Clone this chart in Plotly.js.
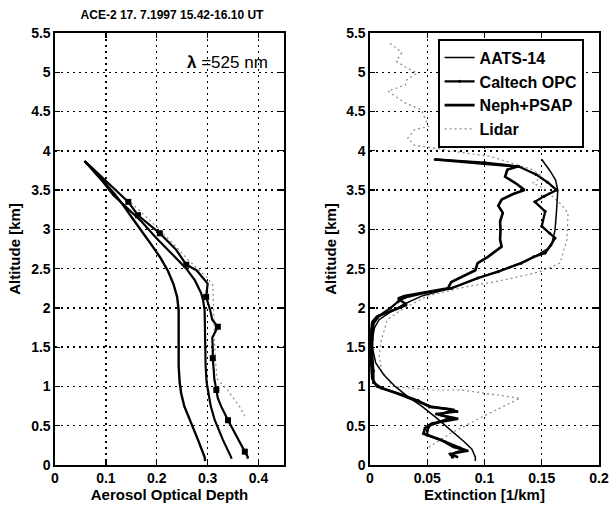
<!DOCTYPE html>
<html>
<head>
<meta charset="utf-8">
<script src="https://cdn.plot.ly/plotly-3.0.1.min.js"></script>
<style>html,body{margin:0;padding:0;background:#fff;}#chart{width:613px;height:505px;}</style>
</head>
<body>
<div id="chart"></div>
<script>
// ---------- Left panel: Aerosol Optical Depth vs altitude ----------
var lNephAlt = [0.05,0.1,0.32,0.57,0.75,0.91,1.05,1.26,1.5,1.72,1.97,2.14,2.3,2.47,2.64,2.8,3.0,3.16,3.3,3.45,3.6,3.75,3.87];
var lNephAod = [0.295,0.294,0.281,0.265,0.254,0.248,0.245,0.243,0.243,0.243,0.243,0.24,0.233,0.222,0.207,0.19,0.167,0.15,0.135,0.117,0.097,0.077,0.058];

var lAatsAlt = [0.08,0.1,0.32,0.57,0.75,0.91,1.05,1.26,1.5,1.68,1.97,2.1,2.19,2.35,2.5,2.7,2.89,3.1,3.3,3.44,3.6,3.75,3.87];
var lAatsAod = [0.347,0.346,0.33,0.314,0.306,0.301,0.298,0.296,0.295,0.294,0.294,0.291,0.287,0.275,0.258,0.228,0.199,0.17,0.138,0.114,0.095,0.075,0.058];

var lOpcAlt = [0.08,0.1,0.17,0.3,0.4,0.57,0.74,0.85,0.955,1.1,1.2,1.36,1.5,1.62,1.76,1.85,1.97,2.14,2.31,2.48,2.55,2.74,2.95,3.18,3.35,3.5,3.65,3.8,3.87];
var lOpcAod = [0.378,0.379,0.373,0.362,0.353,0.34,0.327,0.32,0.317,0.313,0.312,0.31,0.31,0.309,0.32,0.309,0.305,0.297,0.3,0.278,0.258,0.238,0.206,0.163,0.144,0.12,0.095,0.07,0.058];
var lOpcMarkAlt = [0.17,0.57,0.955,1.36,1.76,2.14,2.55,2.95,3.18,3.35];
var lOpcMarkAod = [0.373,0.34,0.317,0.31,0.32,0.297,0.258,0.206,0.163,0.144];

var lLidarAlt = [0.62,0.74,0.83,0.955,1.1,1.5,1.9,2.15,2.29,2.38,2.5,2.61,2.8,3.0,3.2,3.35];
var lLidarAod = [0.373,0.363,0.353,0.339,0.318,0.314,0.312,0.31,0.31,0.3,0.28,0.262,0.235,0.205,0.172,0.148];

// ---------- Right panel: Extinction vs altitude ----------
var rAatsAlt = [3.89,3.75,3.63,3.5,3.25,2.99,2.83,2.75,2.68,2.6,2.5,2.4,2.3,2.22,2.15,2.05,1.95,1.85,1.75,1.6,1.5,1.3,1.15,1.0,0.87,0.74,0.6,0.45,0.3,0.2,0.1,0.05];
var rAatsExt = [0.15,0.157,0.162,0.164,0.163,0.1616,0.159,0.155,0.147,0.137,0.118,0.098,0.08,0.063,0.045,0.03,0.018,0.008,0.004,0.002,0.002,0.005,0.012,0.022,0.033,0.046,0.058,0.07,0.082,0.089,0.092,0.092];

var rOpcAlt = [3.89,3.85,3.8,3.7,3.6,3.5,3.42,3.35,3.23,3.04,2.95,2.89,2.8,2.7,2.65,2.57,2.46,2.38,2.25,2.19,2.13,2.08,2.0,1.9,1.8,1.6,1.4,1.2,1.05,0.98,0.9,0.82,0.74,0.71,0.68,0.65,0.6,0.55,0.5,0.44,0.38,0.3,0.22,0.18,0.14,0.1];
var rOpcExt = [0.057,0.1,0.13,0.145,0.155,0.163,0.152,0.144,0.153,0.15,0.157,0.1616,0.158,0.153,0.143,0.132,0.112,0.094,0.071,0.048,0.03,0.0245,0.018,0.008,0.003,0.002,0.002,0.003,0.003,0.01,0.027,0.042,0.052,0.07,0.076,0.058,0.07,0.06,0.052,0.05,0.05,0.065,0.078,0.085,0.07,0.072];

var rNephAlt = [3.89,3.85,3.8,3.76,3.67,3.59,3.5,3.45,3.38,3.3,3.21,3.1,2.99,2.87,2.78,2.65,2.57,2.48,2.42,2.33,2.25,2.2,2.15,2.12,2.08,2.04,1.98,1.94,1.89,1.82,1.7,1.5,1.3,1.1,1.0,0.91,0.83,0.74,0.7,0.67,0.64,0.59,0.53,0.47,0.4,0.32,0.23,0.19,0.16,0.13,0.1];
var rNephExt = [0.057,0.09,0.129,0.12,0.118,0.127,0.135,0.125,0.115,0.112,0.116,0.1136,0.114,0.1136,0.115,0.103,0.094,0.092,0.083,0.071,0.068,0.05,0.03,0.0245,0.028,0.032,0.022,0.0146,0.006,0.002,0.001,0.001,0.001,0.002,0.006,0.024,0.039,0.054,0.074,0.066,0.06,0.077,0.054,0.048,0.0466,0.062,0.073,0.083,0.075,0.071,0.077];

var rLidarAlt = [5.37,5.25,5.14,5.07,4.99,4.9,4.84,4.76,4.67,4.61,4.52,4.31,4.27,4.16,4.07,4.04,3.97,3.93,3.76,3.67,3.59,3.53,3.33,3.21,2.87,2.57,2.46,2.4,2.33,2.27,2.15,2.0,1.85,1.7,1.59,1.4,1.2,1.0,0.955,0.955,0.85,0.62,0.4,0.21];
var rLidarExt = [0.0175,0.0277,0.023,0.0306,0.041,0.032,0.031,0.0157,0.0245,0.0306,0.045,0.051,0.039,0.033,0.039,0.054,0.084,0.105,0.142,0.151,0.142,0.151,0.166,0.173,0.172,0.166,0.148,0.131,0.108,0.084,0.05,0.03,0.015,0.012,0.01,0.008,0.01,0.02,0.054,0.08,0.131,0.099,0.07,0.0495];

var xTicksLeft = [0,0.1,0.2,0.3,0.4];
var xTicksRight = [0,0.05,0.1,0.15,0.2];
var yTicks = [0,0.5,1,1.5,2,2.5,3,3.5,4,4.5,5,5.5];

var FONT = 'Liberation Sans, Arial, Helvetica, sans-serif';
var lidarLine = {color:'#8a8a8a', width:1.2, dash:'2px,3px'};

var traces = [
  {x:lNephAod, y:lNephAlt, xaxis:'x', yaxis:'y', mode:'lines', line:{color:'#000', width:2.4}, name:'Neph+PSAP', showlegend:false},
  {x:lAatsAod, y:lAatsAlt, xaxis:'x', yaxis:'y', mode:'lines', line:{color:'#000', width:2.2}, name:'AATS-14', showlegend:false},
  {x:lLidarAod, y:lLidarAlt, xaxis:'x', yaxis:'y', mode:'lines', line:lidarLine, name:'Lidar', showlegend:false},
  {x:lOpcAod, y:lOpcAlt, xaxis:'x', yaxis:'y', mode:'lines', line:{color:'#000', width:2.2}, name:'Caltech OPC', showlegend:false},
  {x:lOpcMarkAod, y:lOpcMarkAlt, xaxis:'x', yaxis:'y', mode:'markers', marker:{symbol:'square', size:6, color:'#000'}, name:'Caltech OPC', showlegend:false},

  {x:rLidarExt, y:rLidarAlt, xaxis:'x2', yaxis:'y2', mode:'lines', line:lidarLine, name:'Lidar', legendrank:4},
  {x:rAatsExt, y:rAatsAlt, xaxis:'x2', yaxis:'y2', mode:'lines', line:{color:'#000', width:1.5}, name:'AATS-14', legendrank:1},
  {x:rNephExt, y:rNephAlt, xaxis:'x2', yaxis:'y2', mode:'lines', line:{color:'#000', width:2.6}, name:'Neph+PSAP', legendrank:3},
  {x:rOpcExt, y:rOpcAlt, xaxis:'x2', yaxis:'y2', mode:'lines+markers', line:{color:'#000', width:2.3}, marker:{size:3, color:'#000'}, name:'Caltech OPC', legendrank:2}
];

function axBase(extra){
  var a = {
    showline:true, linecolor:'#000', linewidth:1.6, mirror:'ticks',
    ticks:'inside', ticklen:5, tickwidth:1.3, tickcolor:'#000',
    showgrid:true, gridcolor:'#000', gridwidth:1.4, griddash:'2px,4px',
    zeroline:false, fixedrange:true,
    tickfont:{family:FONT, size:14, color:'#000', weight:'bold'}
  };
  for (var k in extra) a[k] = extra[k];
  return a;
}
var titleFont = {family:FONT, size:15, color:'#000', weight:'bold'};
var yTop = 1 - 33/505, yBot = 1 - 465/505;

var layout = {
  width:613, height:505,
  margin:{l:0, r:0, t:0, b:0},
  paper_bgcolor:'#fff', plot_bgcolor:'#fff',
  showlegend:true,
  font:{family:FONT, color:'#000'},
  title:{text:'ACE-2 17. 7.1997 15.42-16.10 UT', x:172/613, xanchor:'center', xref:'paper', y:1-15/505, yanchor:'middle', yref:'paper',
         font:{family:FONT, size:12, color:'#000', weight:'bold'}},
  xaxis: axBase({domain:[55/613, 284/613], range:[0,0.45], tickvals:xTicksLeft, anchor:'y',
         title:{text:'Aerosol Optical Depth', standoff:1, font:titleFont}}),
  yaxis: axBase({domain:[yBot, yTop], range:[0,5.5], tickvals:yTicks, anchor:'x',
         title:{text:'Altitude [km]', standoff:7, font:titleFont}}),
  xaxis2: axBase({domain:[370/613, 599/613], range:[0,0.2], tickvals:xTicksRight, anchor:'y2',
         title:{text:'Extinction [1/km]', standoff:1, font:titleFont}}),
  yaxis2: axBase({domain:[yBot, yTop], range:[0,5.5], tickvals:yTicks, anchor:'x2',
         title:{text:'Altitude [km]', standoff:6, font:titleFont}}),
  legend:{x:438/613, y:1-39/505, xanchor:'left', yanchor:'top', xref:'paper', yref:'paper',
          bgcolor:'#fff', bordercolor:'#000', borderwidth:1.6, itemwidth:30,
          font:{family:FONT, size:16, color:'#000', weight:'bold'}, tracegroupgap:0},
  annotations:[
    {text:'<b>λ</b> =525 nm', xref:'x', yref:'y', x:0.422, y:5.12, xanchor:'right', yanchor:'middle', showarrow:false,
     font:{family:FONT, size:17, color:'#000'}}
  ]
};

Plotly.newPlot('chart', traces, layout, {displayModeBar:false, staticPlot:true});
</script>
</body>
</html>
